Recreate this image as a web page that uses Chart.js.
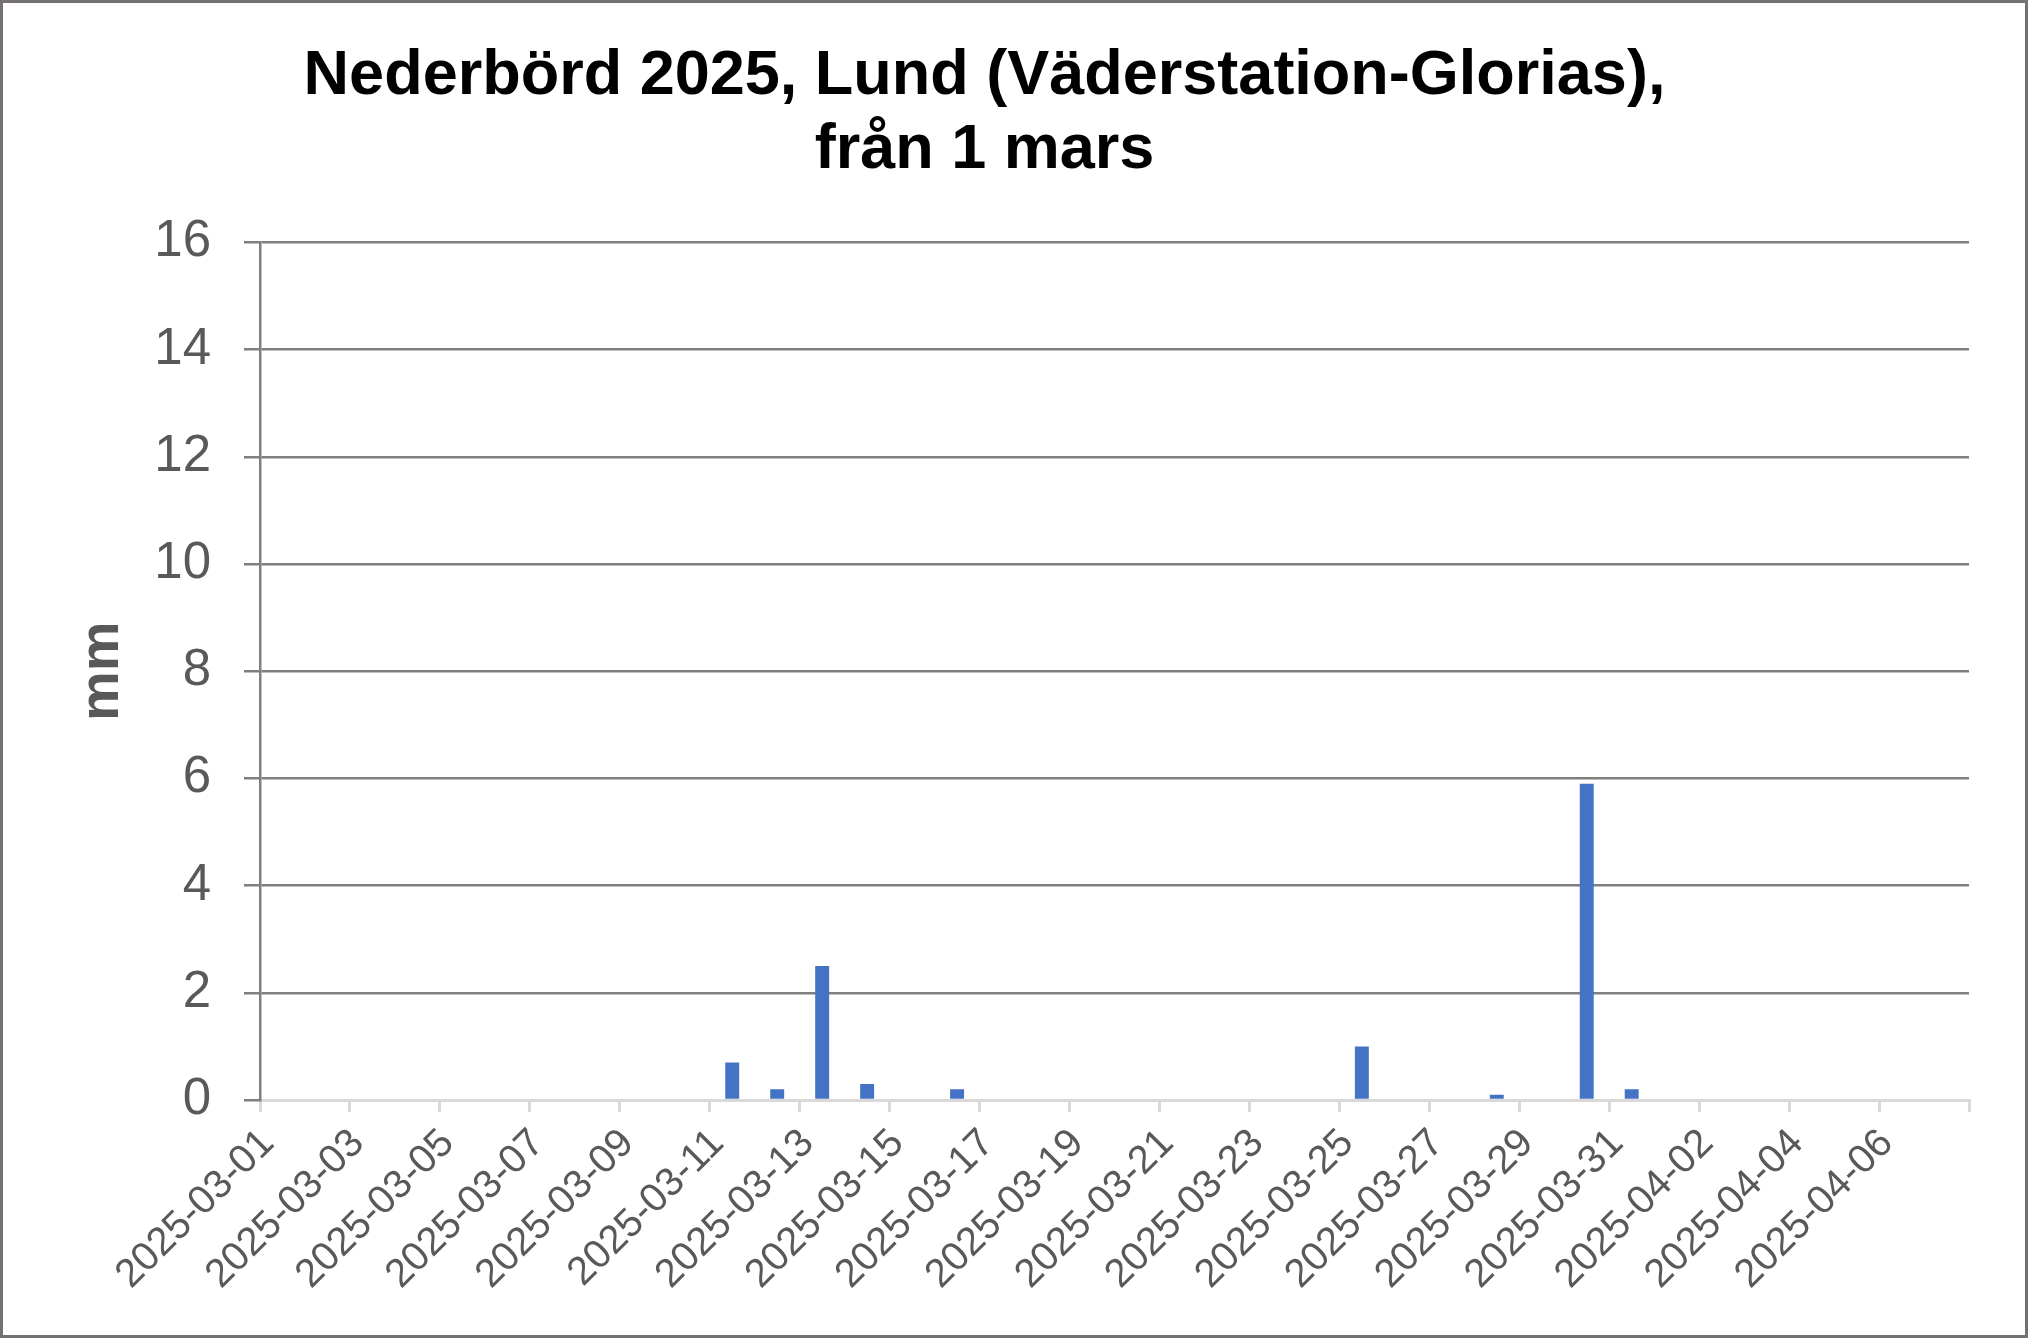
<!DOCTYPE html>
<html>
<head>
<meta charset="utf-8">
<script src="https://cdn.jsdelivr.net/npm/chart.js@4/dist/chart.umd.min.js"></script>
<style>
  html, body { margin: 0; padding: 0; background: #ffffff; overflow: hidden; }
  canvas { display: block; }
</style>
</head>
<body>
<canvas id="c" width="2028" height="1338"></canvas>
<script>
// ---- data ----
const categories = [
  '2025-03-01','2025-03-02','2025-03-03','2025-03-04','2025-03-05','2025-03-06','2025-03-07',
  '2025-03-08','2025-03-09','2025-03-10','2025-03-11','2025-03-12','2025-03-13','2025-03-14',
  '2025-03-15','2025-03-16','2025-03-17','2025-03-18','2025-03-19','2025-03-20','2025-03-21',
  '2025-03-22','2025-03-23','2025-03-24','2025-03-25','2025-03-26','2025-03-27','2025-03-28',
  '2025-03-29','2025-03-30','2025-03-31','2025-04-01','2025-04-02','2025-04-03','2025-04-04',
  '2025-04-05','2025-04-06','2025-04-07'
];
const precipitation = [
  0, 0, 0, 0, 0, 0, 0,
  0, 0, 0, 0.7, 0.2, 2.5, 0.3,
  0, 0.2, 0, 0, 0, 0, 0,
  0, 0, 0, 1.0, 0, 0, 0.1,
  0, 5.9, 0.2, 0, 0, 0, 0,
  0, 0, 0
];
const tickLabels = [
  '2025-03-01','2025-03-03','2025-03-05','2025-03-07','2025-03-09','2025-03-11','2025-03-13',
  '2025-03-15','2025-03-17','2025-03-19','2025-03-21','2025-03-23','2025-03-25','2025-03-27',
  '2025-03-29','2025-03-31','2025-04-02','2025-04-04','2025-04-06'
];
const yTicks = [0, 2, 4, 6, 8, 10, 12, 14, 16];
const titleLines = ['Nederbörd 2025, Lund (Väderstation-Glorias),', 'från 1 mars'];
const yTitle = 'mm';

// ---- chart ----
const FONT = "'Liberation Sans', Arial, sans-serif";
const points = categories.map((d, i) => ({ x: i + 0.5, y: precipitation[i] }));

const frame = {
  id: 'frame',
  afterDraw(chart) {
    const ctx = chart.ctx;
    ctx.save();
    ctx.strokeStyle = '#767171';
    ctx.lineWidth = 3;
    ctx.strokeRect(1.5, 1.5, chart.width - 3, chart.height - 3);
    ctx.restore();
  }
};

new Chart(document.getElementById('c'), {
  type: 'bar',
  data: {
    datasets: [{
      label: 'Nederbörd',
      data: points,
      backgroundColor: '#4472C4',
      borderWidth: 0,
      barPercentage: 1,
      categoryPercentage: 0.31
    }]
  },
  options: {
    responsive: false,
    animation: false,
    devicePixelRatio: 1,
    layout: { padding: { left: 0, right: 59, top: 0, bottom: 0 } },
    plugins: {
      legend: { display: false },
      tooltip: { enabled: false },
      title: {
        display: true,
        text: titleLines,
        color: '#000000',
        font: { family: FONT, size: 63, weight: 'bold', lineHeight: 1.17 },
        padding: { top: 40, bottom: 55 }
      }
    },
    scales: {
      x: {
        type: 'linear',
        min: 0,
        max: categories.length,
        offset: false,
        afterBuildTicks(scale) {
          scale.ticks = tickLabels.map((t, i) => ({ value: i * 2 })).concat([{ value: categories.length }]);
        },
        afterFit(scale) { scale.height = 238; },
        ticks: {
          autoSkip: false,
          maxRotation: 45,
          minRotation: 45,
          padding: 8,
          labelOffset: 8,
          color: '#595959',
          font: { family: FONT, size: 40 },
          callback: (v) => tickLabels[v / 2] !== undefined ? tickLabels[v / 2] : ''
        },
        grid: {
          offset: false,
          drawOnChartArea: false,
          drawTicks: true,
          tickLength: 12,
          color: '#d9d9d9',
          lineWidth: 3
        },
        border: { display: true, color: '#d9d9d9', width: 3 }
      },
      y: {
        min: 0,
        max: 16,
        afterBuildTicks(scale) {
          scale.ticks = yTicks.map(v => ({ value: v }));
        },
        afterFit(scale) { scale.width = 260; },
        ticks: {
          padding: 33,
          color: '#595959',
          font: { family: FONT, size: 51 }
        },
        grid: {
          color: '#7f7f7f',
          lineWidth: 2.5,
          tickLength: 16,
          drawTicks: true
        },
        border: { display: true, color: '#7f7f7f', width: 2.5 },
        title: {
          display: true,
          text: yTitle,
          color: '#595959',
          font: { family: FONT, size: 56, weight: 'bold', lineHeight: 1.2 },
          padding: { top: 69, bottom: 0 }
        }
      }
    }
  },
  plugins: [frame]
});
</script>
</body>
</html>
